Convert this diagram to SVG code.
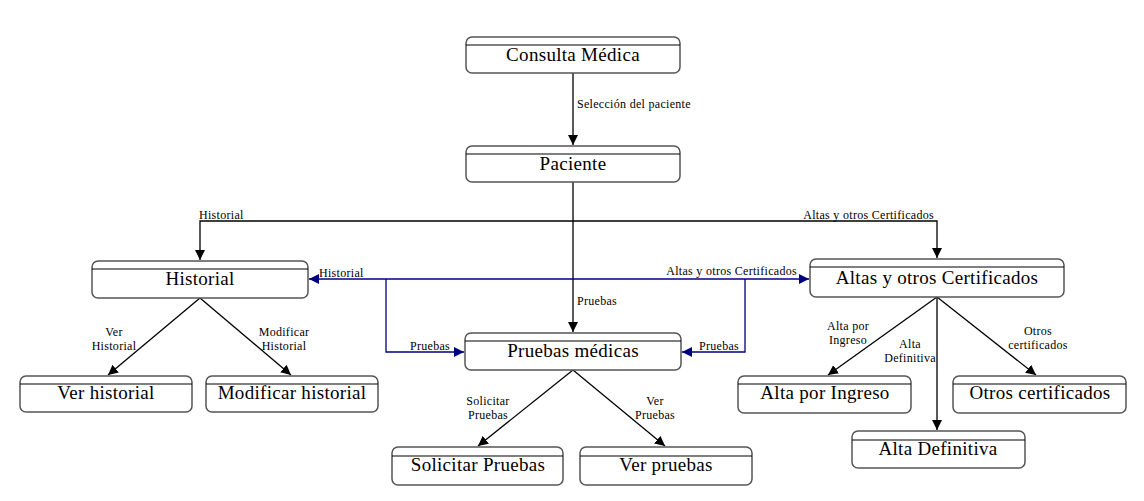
<svg xmlns="http://www.w3.org/2000/svg" width="1144" height="501" viewBox="0 0 1144 501">
<style>
.box{fill:#fff;stroke:#555;stroke-width:1.5}
.hl{stroke:#000;stroke-width:1}
.t{font-family:"Liberation Serif","Times New Roman",serif;font-size:19px;letter-spacing:0.3px;text-anchor:middle;fill:#000}
.l{font-family:"Liberation Serif","Times New Roman",serif;font-size:12px;letter-spacing:0.3px;fill:#000}
.c{text-anchor:middle}
.e{text-anchor:end}
.k{fill:none;stroke:#000;stroke-width:1.3}
.b{fill:none;stroke:#000080;stroke-width:1.3}
</style>
<defs>
<marker id="ak" viewBox="0 0 10 10" refX="10" refY="5" markerWidth="10" markerHeight="10" markerUnits="userSpaceOnUse" orient="auto"><path d="M0,0 L10,5 L0,10 z" fill="#000"/></marker>
<marker id="ab" viewBox="0 0 10 10" refX="10" refY="5" markerWidth="10" markerHeight="10" markerUnits="userSpaceOnUse" orient="auto"><path d="M0,0 L10,5 L0,10 z" fill="#000080"/></marker>
</defs>
<rect width="1144" height="501" fill="#fff"/>
<g id="connectors">
<path class="k" d="M573,73 V145" marker-end="url(#ak)"/>
<path class="k" d="M573,182 V332" marker-end="url(#ak)"/>
<path class="k" d="M573,221 H200 V260" marker-end="url(#ak)"/>
<path class="k" d="M573,221 H937 V258" marker-end="url(#ak)"/>
<path class="b" d="M560,279 H309" marker-end="url(#ab)"/>
<path class="b" d="M560,279 H809" marker-end="url(#ab)"/>
<path class="b" d="M386,279 V352 H464" marker-end="url(#ab)"/>
<path class="b" d="M745,279 V352 H682" marker-end="url(#ab)"/>
<path class="k" d="M200,298 L108,375" marker-end="url(#ak)"/>
<path class="k" d="M200,298 L291,375" marker-end="url(#ak)"/>
<path class="k" d="M573,370 L478,446" marker-end="url(#ak)"/>
<path class="k" d="M573,370 L665,446" marker-end="url(#ak)"/>
<path class="k" d="M937,297 L828,375" marker-end="url(#ak)"/>
<path class="k" d="M937,297 V430" marker-end="url(#ak)"/>
<path class="k" d="M937,297 L1036,375" marker-end="url(#ak)"/>
<text class="l" x="577" y="108">Selección del paciente</text>
<text class="l" x="577" y="305">Pruebas</text>
<text class="l" x="199" y="219">Historial</text>
<text class="l e" x="934" y="219">Altas y otros Certificados</text>
<text class="l" x="319" y="277">Historial</text>
<text class="l e" x="797" y="275">Altas y otros Certificados</text>
<text class="l" x="410" y="350">Pruebas</text>
<text class="l" x="699" y="350">Pruebas</text>
<text class="l c" x="114" y="336">Ver</text>
<text class="l c" x="114" y="350">Historial</text>
<text class="l c" x="284" y="336">Modificar</text>
<text class="l c" x="284" y="350">Historial</text>
<text class="l c" x="488" y="405">Solicitar</text>
<text class="l c" x="488" y="419">Pruebas</text>
<text class="l c" x="655" y="405">Ver</text>
<text class="l c" x="655" y="419">Pruebas</text>
<text class="l c" x="848" y="330">Alta por</text>
<text class="l c" x="848" y="344">Ingreso</text>
<text class="l c" x="910" y="348">Alta</text>
<text class="l c" x="910" y="362">Definitiva</text>
<text class="l c" x="1038" y="335">Otros</text>
<text class="l c" x="1038" y="349">certificados</text>
</g>
<g id="consulta"><rect class="box" x="466" y="37" width="214" height="36" rx="6"/><line class="hl" x1="466" y1="45" x2="680" y2="45"/><text class="t" x="573" y="61">Consulta Médica</text></g>
<g id="paciente"><rect class="box" x="466" y="146" width="214" height="36" rx="6"/><line class="hl" x1="466" y1="154" x2="680" y2="154"/><text class="t" x="573" y="170">Paciente</text></g>
<g id="historial"><rect class="box" x="92" y="261" width="216" height="37" rx="6"/><line class="hl" x1="92" y1="269" x2="308" y2="269"/><text class="t" x="200" y="285">Historial</text></g>
<g id="altas"><rect class="box" x="810" y="259" width="254" height="38" rx="6"/><line class="hl" x1="810" y1="267" x2="1064" y2="267"/><text class="t" x="937" y="284">Altas y otros Certificados</text></g>
<g id="pruebas"><rect class="box" x="465" y="333" width="216" height="37" rx="6"/><line class="hl" x1="465" y1="341" x2="681" y2="341"/><text class="t" x="573" y="357">Pruebas médicas</text></g>
<g id="verhist"><rect class="box" x="20" y="376" width="172" height="36" rx="6"/><line class="hl" x1="20" y1="384" x2="192" y2="384"/><text class="t" x="106" y="399">Ver historial</text></g>
<g id="modhist"><rect class="box" x="206" y="376" width="172" height="36" rx="6"/><line class="hl" x1="206" y1="384" x2="378" y2="384"/><text class="t" x="292" y="399">Modificar historial</text></g>
<g id="solicitar"><rect class="box" x="392" y="447" width="171" height="38" rx="6"/><line class="hl" x1="392" y1="456" x2="563" y2="456"/><text class="t" x="478" y="471">Solicitar Pruebas</text></g>
<g id="verpruebas"><rect class="box" x="580" y="447" width="172" height="38" rx="6"/><line class="hl" x1="580" y1="456" x2="752" y2="456"/><text class="t" x="666" y="471">Ver pruebas</text></g>
<g id="altaingreso"><rect class="box" x="738" y="376" width="173" height="37" rx="6"/><line class="hl" x1="738" y1="384" x2="911" y2="384"/><text class="t" x="825" y="399">Alta por Ingreso</text></g>
<g id="otros"><rect class="box" x="953" y="376" width="173" height="37" rx="6"/><line class="hl" x1="953" y1="384" x2="1126" y2="384"/><text class="t" x="1040" y="399">Otros certificados</text></g>
<g id="altadef"><rect class="box" x="852" y="431" width="173" height="37" rx="6"/><line class="hl" x1="852" y1="440" x2="1025" y2="440"/><text class="t" x="938" y="455">Alta Definitiva</text></g>
</svg>
